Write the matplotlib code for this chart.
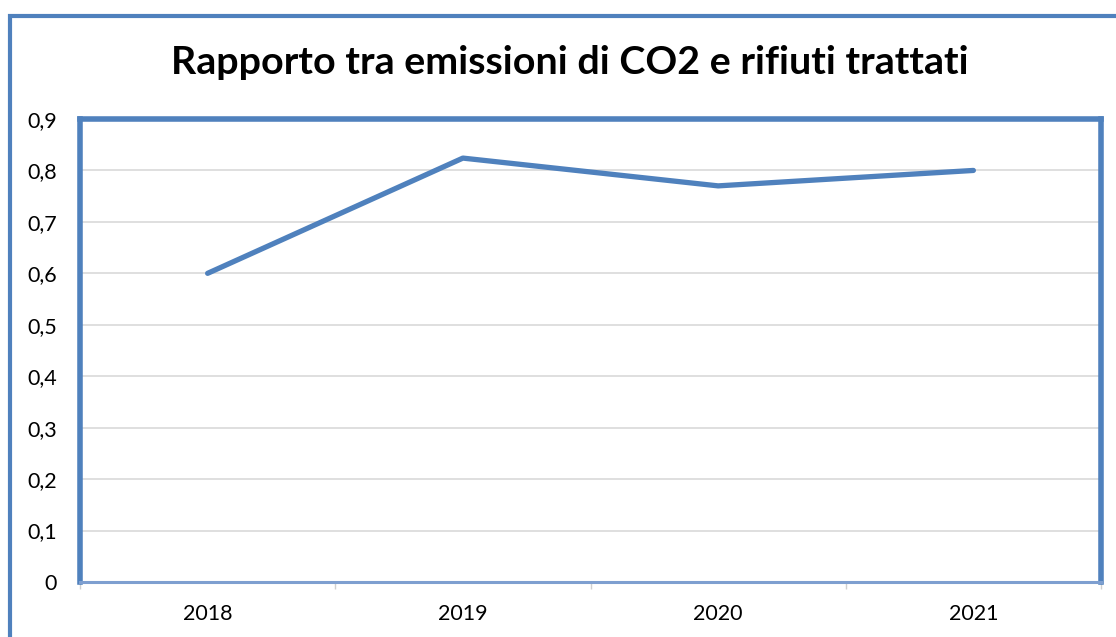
import matplotlib.pyplot as plt
from matplotlib.patches import Rectangle
from matplotlib.ticker import FixedLocator, FuncFormatter

# Dati
anni = ['2018', '2019', '2020', '2021']
rapporto = [0.60, 0.824, 0.77, 0.80]
titolo = 'Rapporto tra emissioni di CO2 e rifiuti trattati'

blu = '#4F81BD'
plt.rcParams['font.family'] = ['Lato', 'DejaVu Sans']

fig = plt.figure(figsize=(11.16, 6.37), dpi=100)

# bordo esterno del grafico
fig.patches.append(Rectangle((10/1116, -0.05), 1.2, 1 - 16/637 + 0.05,
                             transform=fig.transFigure, fill=False,
                             edgecolor=blu, linewidth=3, zorder=0))

ax = fig.add_axes([80/1116, 1 - 582/637, 1021/1116, 463/637])

x = list(range(len(anni)))
ax.plot(x, rapporto, color=blu, linewidth=3.8, solid_capstyle='round', zorder=3)

ax.set_xlim(-0.5, len(anni) - 0.5)
ax.set_ylim(0, 0.9)
ax.set_yticks([i / 10 for i in range(10)])
ax.yaxis.set_major_formatter(FuncFormatter(lambda v, p: ('%g' % round(v, 1)).replace('.', ',')))
ax.set_xticks(x)
ax.set_xticklabels(anni)
ax.xaxis.set_minor_locator(FixedLocator([i - 0.5 for i in range(len(anni) + 1)]))

ax.grid(axis='y', color='#D9D9D9', linewidth=1.2)
ax.set_axisbelow(True)

for s in ['left', 'top', 'right']:
    ax.spines[s].set_color(blu)
    ax.spines[s].set_linewidth(4)
ax.spines['bottom'].set_color('#7E9FD0')
ax.spines['bottom'].set_linewidth(2.2)

ax.tick_params(axis='y', length=0, pad=16.5, labelsize=15.5)
ax.tick_params(axis='x', which='major', length=0, pad=16, labelsize=15.5)
ax.tick_params(axis='x', which='minor', length=5, color='#D0D0D0', width=1)

fig.text(570/1116, 1 - 62/637, titolo, ha='center', va='center',
         fontsize=28.4, fontweight='bold')

fig.savefig('out.png', dpi=100)
